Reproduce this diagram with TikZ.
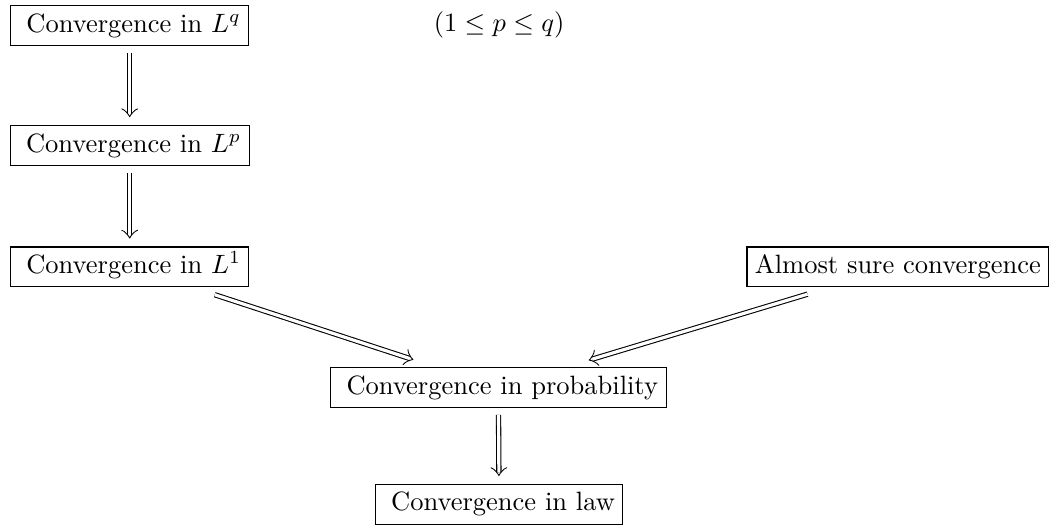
\documentclass[tikz,border=0pt]{standalone}
\usepackage{amsmath,amssymb}
\usepackage{tikz}
\usetikzlibrary{arrows,arrows.meta,positioning,calc}
\tikzstyle{convbox}=[rectangle, draw, inner xsep=3pt, inner ysep=3pt, text height=7pt, text depth=2pt]
\tikzstyle{leadbox}=[convbox, execute at begin node={\hspace*{3pt}}]
\tikzstyle{impl}=[double, double distance=1.2pt, -{Classical TikZ Rightarrow[scale=0.67]}, shorten <=2.6pt, shorten >=3pt]
\tikzstyle{impldiag}=[impl, shorten <=9pt, shorten >=9pt]

\begin{document}
\begin{tikzpicture}
    \useasboundingbox (0,0) rectangle (14.02,6.96);

    \node[leadbox] (Lq) at (1.72,6.62) {Convergence in $L^q$};
    \node (cond) at (6.62,6.63) {$(1 \leq p \leq q)$};
    \node[leadbox] (Lp) at (1.72,5.03) {Convergence in $L^p$};
    \node[leadbox] (L1) at (1.72,3.42) {Convergence in $L^1$};
    \node[convbox] (as) at (11.91,3.42) {Almost sure convergence};
    \node[leadbox] (prob) at (6.61,1.82) {Convergence in probability};
    \node[leadbox] (law) at (6.62,0.27) {Convergence in law};

    \draw[impl] (Lq) -- (Lp);
    \draw[impl] (Lp) -- (L1);
    \draw[impldiag] (L1) -- (prob);
    \draw[impldiag] (as) -- (prob);
    \draw[impl] (prob) -- (law);
  \end{tikzpicture}
\end{document}
